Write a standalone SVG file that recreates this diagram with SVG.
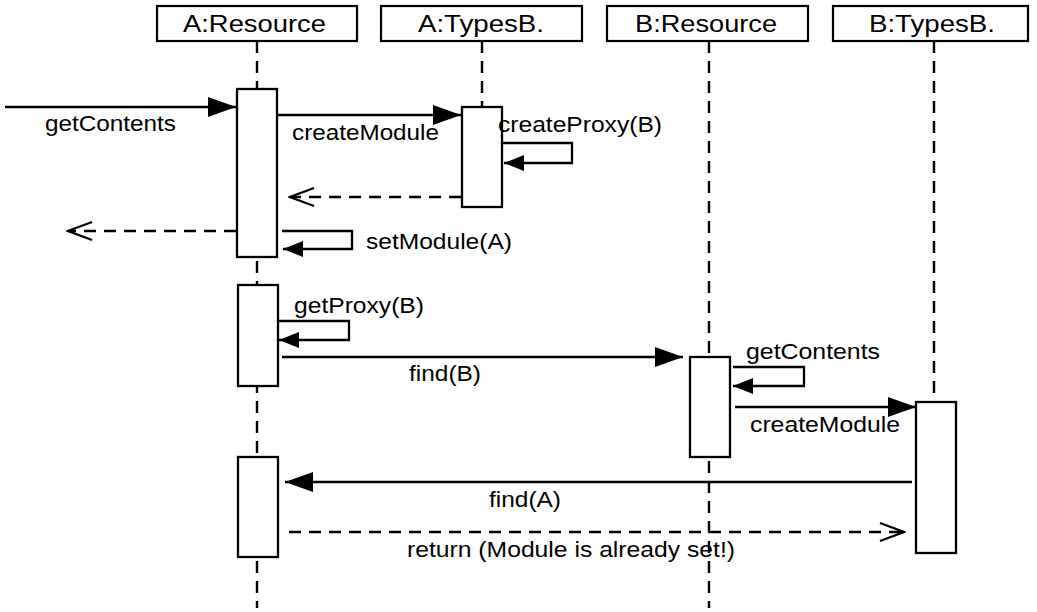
<svg xmlns="http://www.w3.org/2000/svg" width="1037" height="612" viewBox="0 0 1037 612">
<style>
.hdr{fill:#fff;stroke:#000;stroke-width:2.2}
.life{stroke:#000;stroke-width:2.4;stroke-dasharray:12 8;fill:none}
.act{fill:#fff;stroke:#000;stroke-width:2.3}
.msg{stroke:#000;stroke-width:2.3;fill:none}
.ret{stroke:#000;stroke-width:2.3;fill:none;stroke-dasharray:12 8}
.ht{font-family:"Liberation Sans",Arial,sans-serif;font-size:23.5px;fill:#000}
.mt{font-family:"Liberation Sans",Arial,sans-serif;font-size:22px;fill:#000}
</style>
<defs>
<marker id="big" markerUnits="userSpaceOnUse" viewBox="0 0 28 20" refX="28" refY="10" markerWidth="28" markerHeight="20" orient="auto"><path d="M0,0 L28,10 L0,20 Z" fill="#000"/></marker>
<marker id="small" markerUnits="userSpaceOnUse" viewBox="0 0 20 16" refX="20" refY="8" markerWidth="20" markerHeight="16" orient="auto"><path d="M0,0 L20,8 L0,16 Z" fill="#000"/></marker>
<marker id="open" markerUnits="userSpaceOnUse" viewBox="-2 -2 28 22" refX="24" refY="9" markerWidth="28" markerHeight="22" orient="auto"><path d="M0,0 L24,9 L0,18" fill="none" stroke="#000" stroke-width="2.2"/></marker>
</defs>

<g id="node-a-resource">
<rect class="hdr" x="157" y="6" width="200" height="35"/>
<text class="ht" x="183" y="32" textLength="143" lengthAdjust="spacingAndGlyphs">A:Resource</text>
<line class="life" x1="257" y1="41" x2="257" y2="608"/>
<rect class="act" x="237" y="89" width="40" height="168"/>
<rect class="act" x="238" y="285" width="40" height="101"/>
<rect class="act" x="238" y="457" width="40" height="100"/>
</g>

<g id="node-a-typesb">
<rect class="hdr" x="381" y="6" width="201" height="35"/>
<text class="ht" x="418" y="32" textLength="126" lengthAdjust="spacingAndGlyphs">A:TypesB.</text>
<line class="life" x1="482" y1="41" x2="482" y2="107"/>
<rect class="act" x="462" y="107" width="40" height="100"/>
</g>

<g id="node-b-resource">
<rect class="hdr" x="607" y="6" width="201" height="35"/>
<text class="ht" x="635" y="32" textLength="142" lengthAdjust="spacingAndGlyphs">B:Resource</text>
<line class="life" x1="709" y1="41" x2="709" y2="608"/>
<rect class="act" x="690" y="357" width="40" height="100"/>
</g>

<g id="node-b-typesb">
<rect class="hdr" x="833" y="6" width="195" height="35"/>
<text class="ht" x="869" y="32" textLength="126" lengthAdjust="spacingAndGlyphs">B:TypesB.</text>
<line class="life" x1="934" y1="41" x2="934" y2="402"/>
<rect class="act" x="916" y="402" width="40" height="151"/>
</g>

<g id="connectors">
<line class="msg" x1="5" y1="107" x2="236" y2="107" marker-end="url(#big)"/>
<text class="mt" x="45" y="131" textLength="131" lengthAdjust="spacingAndGlyphs">getContents</text>

<line class="msg" x1="278" y1="115" x2="461" y2="115" marker-end="url(#big)"/>
<text class="mt" x="292" y="140" textLength="147" lengthAdjust="spacingAndGlyphs">createModule</text>

<path class="msg" d="M502,143 H572 V163 H504" marker-end="url(#small)"/>
<text class="mt" x="498" y="132" textLength="164" lengthAdjust="spacingAndGlyphs">createProxy(B)</text>

<line class="ret" x1="461" y1="197" x2="290" y2="197" marker-end="url(#open)"/>

<line class="ret" x1="236" y1="231" x2="68" y2="231" marker-end="url(#open)"/>

<path class="msg" d="M282,231 H352 V249 H283" marker-end="url(#small)"/>
<text class="mt" x="366" y="249" textLength="146" lengthAdjust="spacingAndGlyphs">setModule(A)</text>

<path class="msg" d="M278,321 H349 V340 H279" marker-end="url(#small)"/>
<text class="mt" x="294" y="313" textLength="130" lengthAdjust="spacingAndGlyphs">getProxy(B)</text>

<line class="msg" x1="282" y1="357" x2="683" y2="357" marker-end="url(#big)"/>
<text class="mt" x="409" y="381" textLength="72" lengthAdjust="spacingAndGlyphs">find(B)</text>

<path class="msg" d="M733,367 H804 V386 H733" marker-end="url(#small)"/>
<text class="mt" x="746" y="359" textLength="134" lengthAdjust="spacingAndGlyphs">getContents</text>

<line class="msg" x1="735" y1="407" x2="916" y2="407" marker-end="url(#big)"/>
<text class="mt" x="750" y="432" textLength="150" lengthAdjust="spacingAndGlyphs">createModule</text>

<line class="msg" x1="912" y1="482" x2="285" y2="482" marker-end="url(#big)"/>
<text class="mt" x="489" y="507" textLength="72" lengthAdjust="spacingAndGlyphs">find(A)</text>

<line class="ret" x1="289" y1="532" x2="904" y2="532" marker-end="url(#open)"/>
<text class="mt" x="407" y="557" textLength="328" lengthAdjust="spacingAndGlyphs">return (Module is already set!)</text>
</g>
</svg>
